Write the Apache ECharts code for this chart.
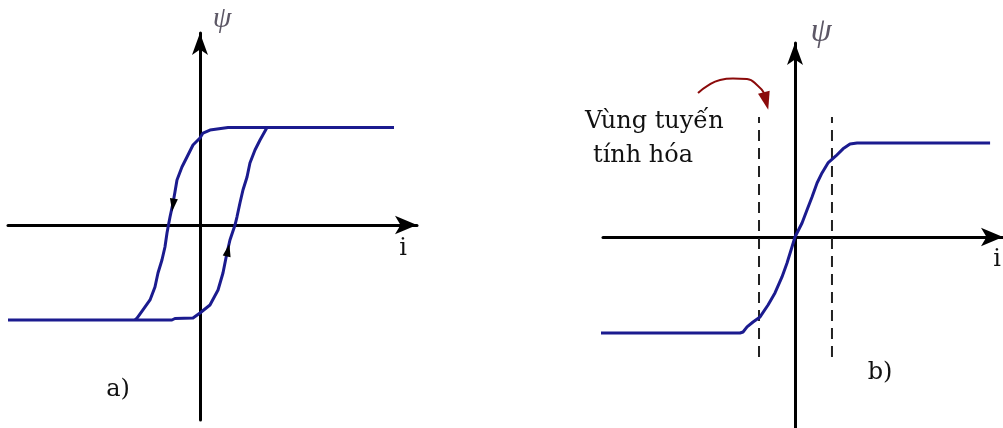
<!DOCTYPE html>
<html>
<head>
<meta charset="utf-8">
<script src="https://cdn.jsdelivr.net/npm/echarts@6/dist/echarts.min.js"></script>
<style>
  html, body { margin: 0; padding: 0; background: #ffffff; }
  #chart { width: 1003px; height: 428px; }
</style>
</head>
<body>
<div id="chart"></div>
<script>
// ψ(i) characteristics in relative units (saturation flux ≈ ±1).

// a) hysteresis loop: descending branch (from +saturation down to −saturation)
const loopDown = [
  [2.000, 1.005], [0.289, 1.005], [0.103, 0.979], [0.031, 0.948], [0.000, 0.897],
  [-0.072, 0.825], [-0.134, 0.701], [-0.186, 0.598], [-0.237, 0.464], [-0.258, 0.340],
  [-0.278, 0.227], [-0.309, 0.082], [-0.325, 0.000], [-0.340, -0.082], [-0.361, -0.227],
  [-0.392, -0.361], [-0.433, -0.495], [-0.464, -0.639], [-0.515, -0.773], [-0.588, -0.876],
  [-0.649, -0.959], [-0.670, -0.979]
];
// a) ascending branch (from −saturation back up to +saturation)
const loopUp = [
  [-1.979, -0.979], [-0.289, -0.979], [-0.258, -0.964], [-0.072, -0.959], [0.000, -0.907],
  [0.103, -0.825], [0.186, -0.670], [0.237, -0.495], [0.278, -0.289], [0.309, -0.155],
  [0.361, 0.000], [0.381, 0.082], [0.412, 0.227], [0.443, 0.361], [0.485, 0.495],
  [0.515, 0.639], [0.567, 0.773], [0.619, 0.876], [0.691, 1.005]
];
// direction markers on the two branches: [i, ψ, rotation]
const loopArrows = [
  [-0.278, 0.206, 172],
  [0.289, -0.258, -12]
];

// b) single-valued magnetisation curve
const curveB = [
  [-2.284, -1.011], [-0.579, -1.011], [-0.547, -1.000], [-0.505, -0.947], [-0.442, -0.895],
  [-0.368, -0.842], [-0.284, -0.716], [-0.211, -0.589], [-0.137, -0.421], [-0.084, -0.274],
  [-0.032, -0.105], [0.000, 0.000], [0.021, 0.042], [0.074, 0.147], [0.126, 0.284],
  [0.179, 0.421], [0.232, 0.568], [0.284, 0.674], [0.347, 0.779], [0.430, 0.853],
  [0.505, 0.928], [0.579, 0.979], [0.653, 0.989], [2.053, 0.989]
];
// bounds of the linearised region and height of its dashed guides
const linearBounds = [-0.379, 0.389];
const guideSpan = [-1.263, 1.263];
// curved pointer from the label towards the linearised region, and its head [i, ψ, rotation]
const pointerPath = [
  [-1.021, 1.516], [-0.926, 1.589], [-0.789, 1.653], [-0.653, 1.668],
  [-0.505, 1.663], [-0.389, 1.589], [-0.326, 1.516]
];
const pointerHead = [-0.305, 1.432, 194];

// axis ranges of the two panels
const rangeA = { x: [-1.979, 2.237], y: [-2.010, 1.979] };
const rangeB = { x: [-2.021, 2.189], y: [-2.011, 2.042] };

const texts = {
  psi: 'ψ',
  current: 'i',
  panelA: 'a)',
  panelB: 'b)',
  region1: 'Vùng tuyến',
  region2: 'tính hóa'
};

const BLUE = '#1b1b8f';
const DARK_RED = '#8b0a0a';
const SERIF = '"DejaVu Serif", "Liberation Serif", serif';
const TIMES = '"Liberation Serif", "DejaVu Serif", serif';

function axis(gridIndex, range, arrowSize) {
  return {
    gridIndex: gridIndex,
    type: 'value',
    min: range[0],
    max: range[1],
    axisLine: {
      show: true,
      onZero: true,
      symbol: ['none', 'arrow'],
      symbolSize: arrowSize,
      lineStyle: { color: '#000', width: 3 }
    },
    axisTick: { show: false },
    axisLabel: { show: false },
    splitLine: { show: false }
  };
}

function curve(data, xi, color, width, smooth) {
  return {
    type: 'line',
    xAxisIndex: xi, yAxisIndex: xi,
    data: data,
    showSymbol: false,
    symbol: 'none',
    clip: false,
    smooth: !!smooth,
    lineStyle: { color: color || BLUE, width: width || 3, join: 'round' },
    z: 3
  };
}

function guide(x) {
  return {
    type: 'line',
    xAxisIndex: 1, yAxisIndex: 1,
    data: [[x, guideSpan[0]], [x, guideSpan[1]]],
    showSymbol: false,
    symbol: 'none',
    lineStyle: { color: '#222', width: 2, type: [11, 7] },
    z: 2
  };
}

function heads(xi, items, color, size) {
  return {
    type: 'scatter',
    xAxisIndex: xi, yAxisIndex: xi,
    data: items.map(function (a) {
      return { value: [a[0], a[1]], symbolRotate: a[2] };
    }),
    symbol: 'triangle',
    symbolSize: size,
    clip: false,
    itemStyle: { color: color, opacity: 1 },
    z: 4
  };
}

function label(text, x, y, size, opts) {
  opts = opts || {};
  return {
    type: 'text',
    x: x, y: y,
    silent: true,
    style: {
      text: text,
      font: (opts.italic ? 'italic ' : '') + size + 'px ' + (opts.family || SERIF),
      fill: opts.color || '#111',
      align: opts.align || 'center',
      verticalAlign: 'middle'
    }
  };
}

const option = {
  backgroundColor: '#ffffff',
  animation: false,
  grid: [
    { left: 8, top: 33, width: 409, height: 387 },
    { left: 603, top: 43, width: 400, height: 385 }
  ],
  xAxis: [axis(0, rangeA.x, [14, 22]), axis(1, rangeB.x, [14, 22])],
  yAxis: [axis(0, rangeA.y, [12, 22]), axis(1, rangeB.y, [12, 22])],
  series: [
    curve(loopDown, 0),
    curve(loopUp, 0),
    heads(0, loopArrows, '#000', [8, 13]),
    curve(curveB, 1),
    guide(linearBounds[0]),
    guide(linearBounds[1]),
    curve(pointerPath, 1, DARK_RED, 2, true),
    heads(1, [pointerHead], DARK_RED, [12, 18])
  ],
  graphic: [
    label(texts.psi, 222, 19, 30, { italic: true, color: '#5d5866', family: TIMES }),
    label(texts.current, 403, 249, 24),
    label(texts.panelA, 118, 390, 24),
    label(texts.psi, 821, 32, 34, { italic: true, color: '#5d5866', family: TIMES }),
    label(texts.current, 997, 260, 24),
    label(texts.panelB, 880, 373, 24),
    label(texts.region1, 585, 122, 24, { align: 'left' }),
    label(texts.region2, 593, 156, 24, { align: 'left' })
  ]
};

const chart = echarts.init(document.getElementById('chart'), null, { renderer: 'canvas' });
chart.setOption(option);
</script>
</body>
</html>
